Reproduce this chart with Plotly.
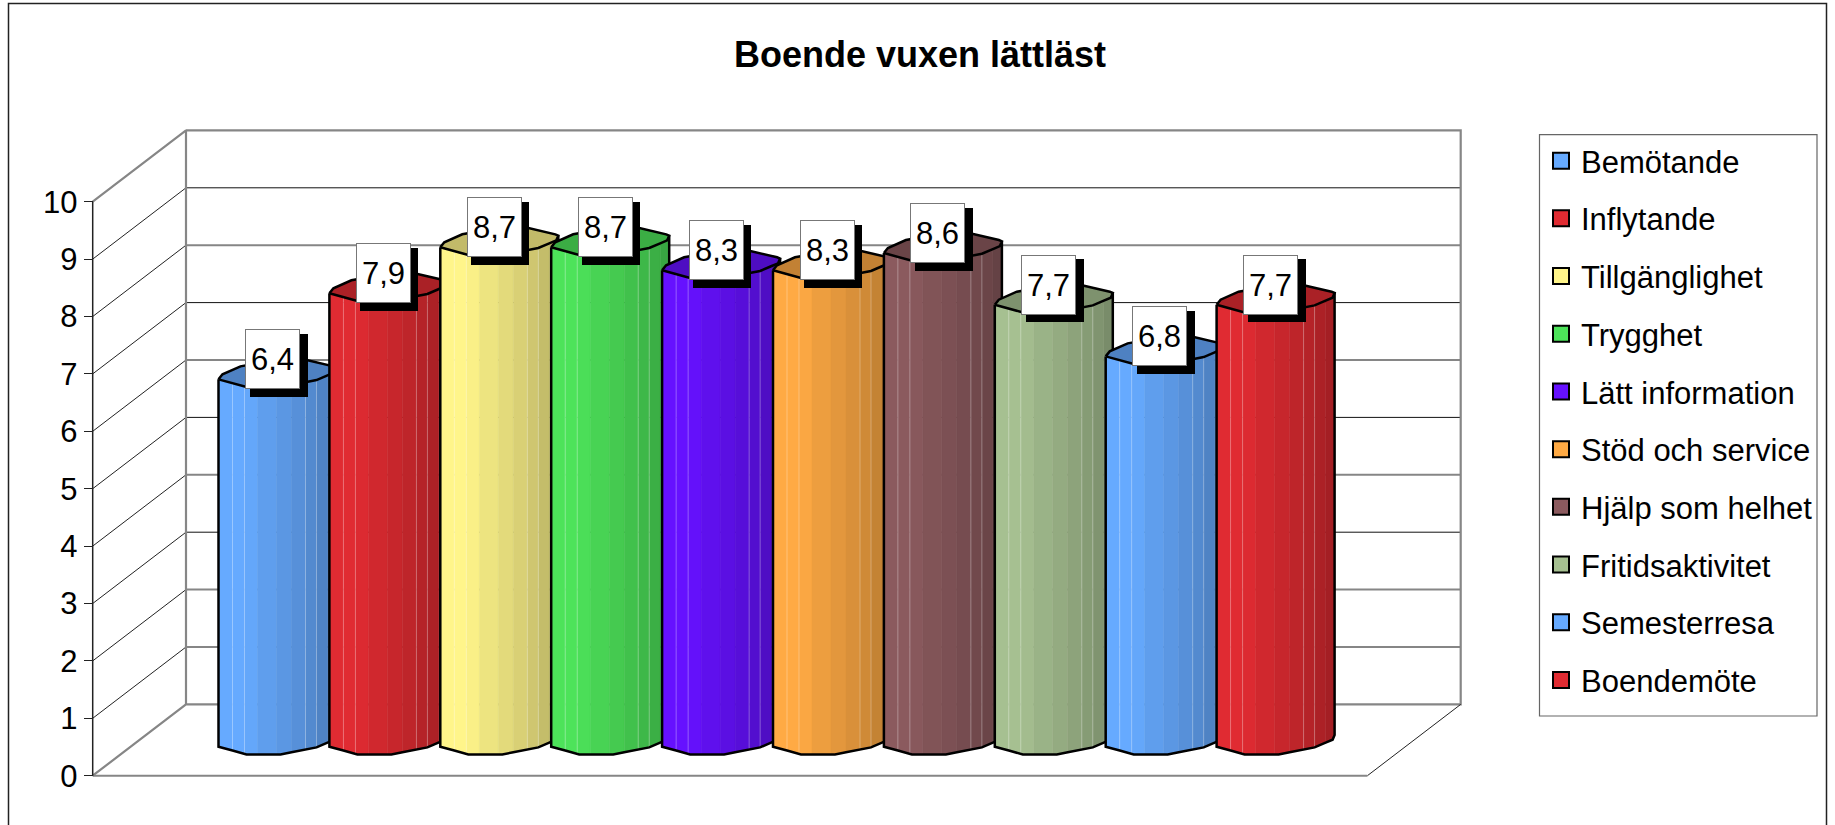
import plotly.graph_objects as go

categories = ["Bemötande", "Inflytande", "Tillgänglighet", "Trygghet", "Lätt information",
              "Stöd och service", "Hjälp som helhet", "Fritidsaktivitet", "Semesterresa", "Boendemöte"]
values = [6.4, 7.9, 8.7, 8.7, 8.3, 8.3, 8.6, 7.7, 6.8, 7.7]
labels = ["6,4", "7,9", "8,7", "8,7", "8,3", "8,3", "8,6", "7,7", "6,8", "7,7"]
colors = ["#66AAFF", "#E02B32", "#FFF58A", "#4DE35A", "#6611FF",
          "#FFAA44", "#8B5A5E", "#A6C091", "#66AAFF", "#E02B32"]
title = "Boende vuxen lättläst"
tick_values = list(range(11))

W, H = 1835, 825
MT, MB = 40, 45            # fixed margins, they absorb the legend's margin push
P = H - MB - MT            # paper height in px
PAD = 4                    # extra plot area so edge lines are not clipped


def py(p):
    return 1 - (p - MT) / P


X0, X1 = 92.7, 1460.7      # chart box in page px
Y0, YTOP = 775.7, 130.3
PX_Y = 57.4                # px per y unit
PX_X = 110.9               # px per category
FIRST_C = 277.5
DX, DY = 93.3 / PX_X, 71.3 / PX_Y     # depth of the box, in axis units
Y_MAX = (Y0 - YTOP) / PX_Y
X_MIN = (X0 - FIRST_C) / PX_X
X_MAX = (X1 - FIRST_C) / PX_X
BASE = 29 / PX_Y           # bar start above floor
CYL_W = 118.0


def fx(p):
    return (p - CYL_W / 2) / PX_X


def fy(p):
    return p / PX_Y


def shade(c, k):
    r, g, b = int(c[1:3], 16), int(c[3:5], 16), int(c[5:7], 16)
    return "#%02X%02X%02X" % (round(r * k), round(g * k), round(b * k))


def front_offset(p):
    """downward rim offset (px) of the front edge at px p across the cylinder"""
    pts = [(0, 0), (28, 7.7), (62, 7.7), (98, 0.7), (116, -7), (118, -11.7)]
    for (a, b), (c, d) in zip(pts, pts[1:]):
        if a <= p <= c:
            return b + (d - b) * (p - a) / (c - a)
    return pts[-1][1]


FRONT = [0, 14, 26, 28, 39, 58, 62, 73, 87, 98, 109, 116, 118]
BACK = [(0, 0), (4, -5), (22, -13), (50, -18), (85, -20), (115, -13), (118, -11.7)]
STRIPS = [(0, 14, 1.0), (14, 26, 1.0), (26, 39, .98), (39, 58, .93), (58, 73, .89),
          (73, 87, .85), (87, 98, .81), (98, 109, .77), (109, 118, .73)]
LIGHT = [14, 26, 87, 98]

fig = go.Figure()


def line(xs, ys, color, width):
    fig.add_trace(go.Scatter(x=xs, y=ys, mode="lines", line=dict(color=color, width=width),
                             hoverinfo="skip", showlegend=False))


GRAY = "#868686"
# gridlines: side + back wall
for v in tick_values[1:-1]:
    thick = v in (8, 6, 4, 2, 1)
    line([X_MIN, X_MIN + DX], [v, v + DY], "#222222", 1)
    line([X_MIN + DX, X_MAX], [v + DY, v + DY], GRAY if thick else "#111111", 2 if thick else 1)
# walls
line([X_MIN, X_MIN + DX, X_MIN + DX], [tick_values[-1], Y_MAX, DY], GRAY, 2.2)
line([X_MIN + DX, X_MAX, X_MAX, X_MIN + DX, X_MIN], [Y_MAX, Y_MAX, DY, DY, 0], GRAY, 2.2)
line([X_MAX, X_MAX - DX], [DY, 0], "#222222", 1)
line([X_MAX - DX, X_MIN], [0, 0], GRAY, 2)
line([X_MIN, X_MIN], [tick_values[0], tick_values[-1]], "#222222", 1.5)

# cylinders
for i, (v, col) in enumerate(zip(values, colors)):
    top = BASE + v
    for a, b, k in STRIPS:
        ps = [p for p in FRONT if a <= p <= b]
        xs = [i + fx(p) for p in ps]
        fig.add_trace(go.Scatter(
            x=xs + xs[::-1] + xs[:1],
            y=[BASE - fy(front_offset(p)) for p in ps] + [top - fy(front_offset(p)) for p in ps[::-1]] + [BASE - fy(front_offset(ps[0]))],
            mode="lines", fill="toself", fillcolor=shade(col, k), line=dict(width=0.5, color=shade(col, k)),
            hoverinfo="skip", showlegend=False))
    lx, ly = [], []
    for p in LIGHT:
        lx += [i + fx(p), i + fx(p), None]
        ly += [BASE - fy(front_offset(p)), top - fy(front_offset(p)), None]
    line(lx, ly, "rgba(255,255,255,0.3)", 1)
    # top face
    rim_x = [i + fx(p) for p in FRONT] + [i + fx(p) for p, _ in BACK[::-1]]
    rim_y = [top - fy(front_offset(p)) for p in FRONT] + [top - fy(q) for _, q in BACK[::-1]]
    fig.add_trace(go.Scatter(x=rim_x, y=rim_y, mode="lines", fill="toself", fillcolor=shade(col, .76),
                             line=dict(color="black", width=2.5), hoverinfo="skip", showlegend=False))
    # outline
    ox = [i + fx(0), i + fx(0)] + [i + fx(p) for p in FRONT] + [i + fx(FRONT[-1])]
    oy = [top, BASE] + [BASE - fy(front_offset(p)) for p in FRONT] + [top - fy(front_offset(FRONT[-1]))]
    line(ox, oy, "black", 2.5)

# legend entries
for i, (c, col) in enumerate(zip(categories, colors)):
    fig.add_trace(go.Scatter(x=[None], y=[None], mode="markers", name=c, legendgroup=str(i),
                             marker=dict(symbol="square", size=16, color=col, line=dict(color="black", width=2))))

# value axis carrier (0-10 only, so the axis line stops at 10)
fig.add_trace(go.Scatter(x=[None], y=[None], yaxis="y2", showlegend=False, hoverinfo="skip", mode="lines"))

ann = []
for i, (v, t) in enumerate(zip(values, labels)):
    ann.append(dict(x=i, y=BASE + v, text="", showarrow=False, width=58, height=63, bgcolor="black",
                    xshift=1, yshift=20 - 6, borderpad=0, borderwidth=0))
for i, (v, t) in enumerate(zip(values, labels)):
    ann.append(dict(x=i, y=BASE + v, text=t, showarrow=False, width=53, height=58, bgcolor="white",
                    bordercolor="#777777", borderwidth=1, borderpad=0, xshift=-5, yshift=20,
                    font=dict(size=31, color="black")))

fig.update_layout(
    width=W, height=H, autosize=False,
    margin=dict(l=0, r=0, t=MT, b=MB, pad=0),
    paper_bgcolor="white", plot_bgcolor="rgba(0,0,0,0)",
    font=dict(family="Liberation Sans, Arial, sans-serif", color="black"),
    title=dict(text="<b>%s</b>" % title, font=dict(size=36), x=920 / W, xanchor="center", xref="paper",
               y=1 - 54 / H, yanchor="middle"),
    xaxis=dict(domain=[(X0 - PAD) / W, (X1 + PAD) / W],
               range=[X_MIN - PAD / PX_X, X_MAX + PAD / PX_X], visible=False, fixedrange=True),
    yaxis=dict(domain=[py(Y0 + PAD), py(YTOP - PAD)], range=[-PAD / PX_Y, Y_MAX + PAD / PX_Y],
               visible=False, fixedrange=True),
    yaxis2=dict(domain=[py(Y0), py(Y0 - PX_Y * tick_values[-1])], range=[tick_values[0], tick_values[-1]],
                tickvals=tick_values, anchor="free", position=X0 / W, side="left",
                showgrid=False, zeroline=False, showline=False,
                ticks="outside", ticklen=9, tickcolor="#222222", tickwidth=1.3,
                tickfont=dict(size=31), fixedrange=True),
    legend=dict(x=1541 / W, y=py(134), xanchor="left", yanchor="top",
                bgcolor="rgba(0,0,0,0)",
                font=dict(size=31), tracegroupgap=14.4, itemsizing="trace", itemwidth=30,
                traceorder="grouped"),
    showlegend=True,
    annotations=ann,
    shapes=[
        dict(type="rect", xref="paper", yref="paper", x0=8.5 / W, x1=1826.5 / W, y0=py(H + 20), y1=py(3.5),
             line=dict(color="#222222", width=1.5), layer="below"),
        dict(type="rect", xref="paper", yref="paper", x0=1539.5 / W, x1=1817 / W, y0=py(716), y1=py(134.7),
             line=dict(color="#666666", width=1.2), layer="below"),
    ],
)
fig.write_html("out.html", config=dict(displayModeBar=False),
               post_script="document.body.style.margin='0';document.documentElement.style.overflow='hidden';")
